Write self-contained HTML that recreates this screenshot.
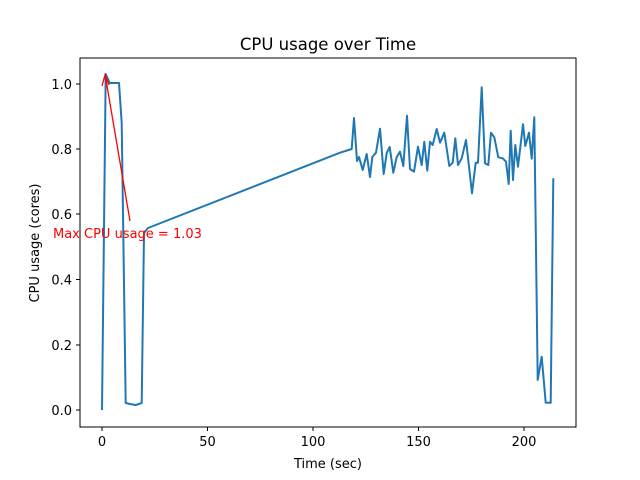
<!DOCTYPE html>
<html><head><style>body{margin:0;background:#fff}svg{display:block}text{font-family:"DejaVu Sans","Liberation Sans",sans-serif}</style></head><body>
<svg width="640" height="480" viewBox="0 0 640 480">
<text x="328" y="50" font-size="16.5" text-anchor="middle">CPU usage over Time</text>
<g font-size="13" text-anchor="middle">
<text x="102" y="446">0</text><text x="207.5" y="446">50</text><text x="313" y="446">100</text><text x="418.5" y="446">150</text><text x="524" y="446">200</text>
<text x="328" y="468">Time (sec)</text>
</g>
<g font-size="13" text-anchor="end">
<text x="72" y="415">0.0</text><text x="72" y="350">0.2</text><text x="72" y="284.5">0.4</text><text x="72" y="219">0.6</text><text x="72" y="154">0.8</text><text x="72" y="89">1.0</text>
</g>
<text transform="translate(39,243) rotate(-90)" font-size="13" text-anchor="middle">CPU usage (cores)</text>
<g stroke="#000" stroke-width="1">
<line x1="102" y1="427" x2="102" y2="431"/><line x1="207.5" y1="427" x2="207.5" y2="431"/><line x1="313" y1="427" x2="313" y2="431"/><line x1="418.5" y1="427" x2="418.5" y2="431"/><line x1="524" y1="427" x2="524" y2="431"/>
<line x1="76" y1="410" x2="80" y2="410"/><line x1="76" y1="345" x2="80" y2="345"/><line x1="76" y1="279.5" x2="80" y2="279.5"/><line x1="76" y1="214" x2="80" y2="214"/><line x1="76" y1="149" x2="80" y2="149"/><line x1="76" y1="84" x2="80" y2="84"/>
</g>
<polyline fill="none" stroke="#1f77b4" stroke-width="2" stroke-linejoin="round" points="102,410 105.7,74 109.7,83 119,83 121.7,123 125.7,403 130,404 135.7,405 141.7,403 144,233 148,228 340,152.7 351.7,149 354,118 357,161 359,157 362.7,170 366.7,154 370,177 372.3,157 376,152.7 380,128.7 383.7,174 386.7,153 389.7,147 393.3,172.7 396.7,157 400,151.7 403.3,166 407,115.7 410,169 414,171.7 418,146.7 421.7,165 424.3,141.7 427.3,170.7 430,141.7 432.7,145 436.7,129 440,142.7 444.3,132.7 449.3,166 452.7,162.7 455.3,138.3 458,165 461.7,158.3 466,140 472,193.3 475.7,162.7 478,162.7 481.7,87.3 485,163.3 488.3,165 491,132.7 494.3,137.3 498.3,157.3 502.7,158.3 506,161.7 508.7,184 510.7,130.7 513,180 515.3,145 518,166.7 523,124.3 525.3,146 529,132.7 531.7,158.7 534.3,117.3 537.7,380 541.7,356.7 545.7,402.7 550.7,402.7 553.3,178.3"/>
<line x1="130" y1="221" x2="105.5" y2="77" stroke="red" stroke-width="1.3"/>
<polyline points="102,86 105,75 109,85" fill="none" stroke="red" stroke-width="1.3"/>
<text x="53" y="238" font-size="13" fill="red">Max CPU usage = 1.03</text>
<rect x="80" y="58" width="496" height="369" fill="none" stroke="#000" stroke-width="1"/>
</svg>
</body></html>
